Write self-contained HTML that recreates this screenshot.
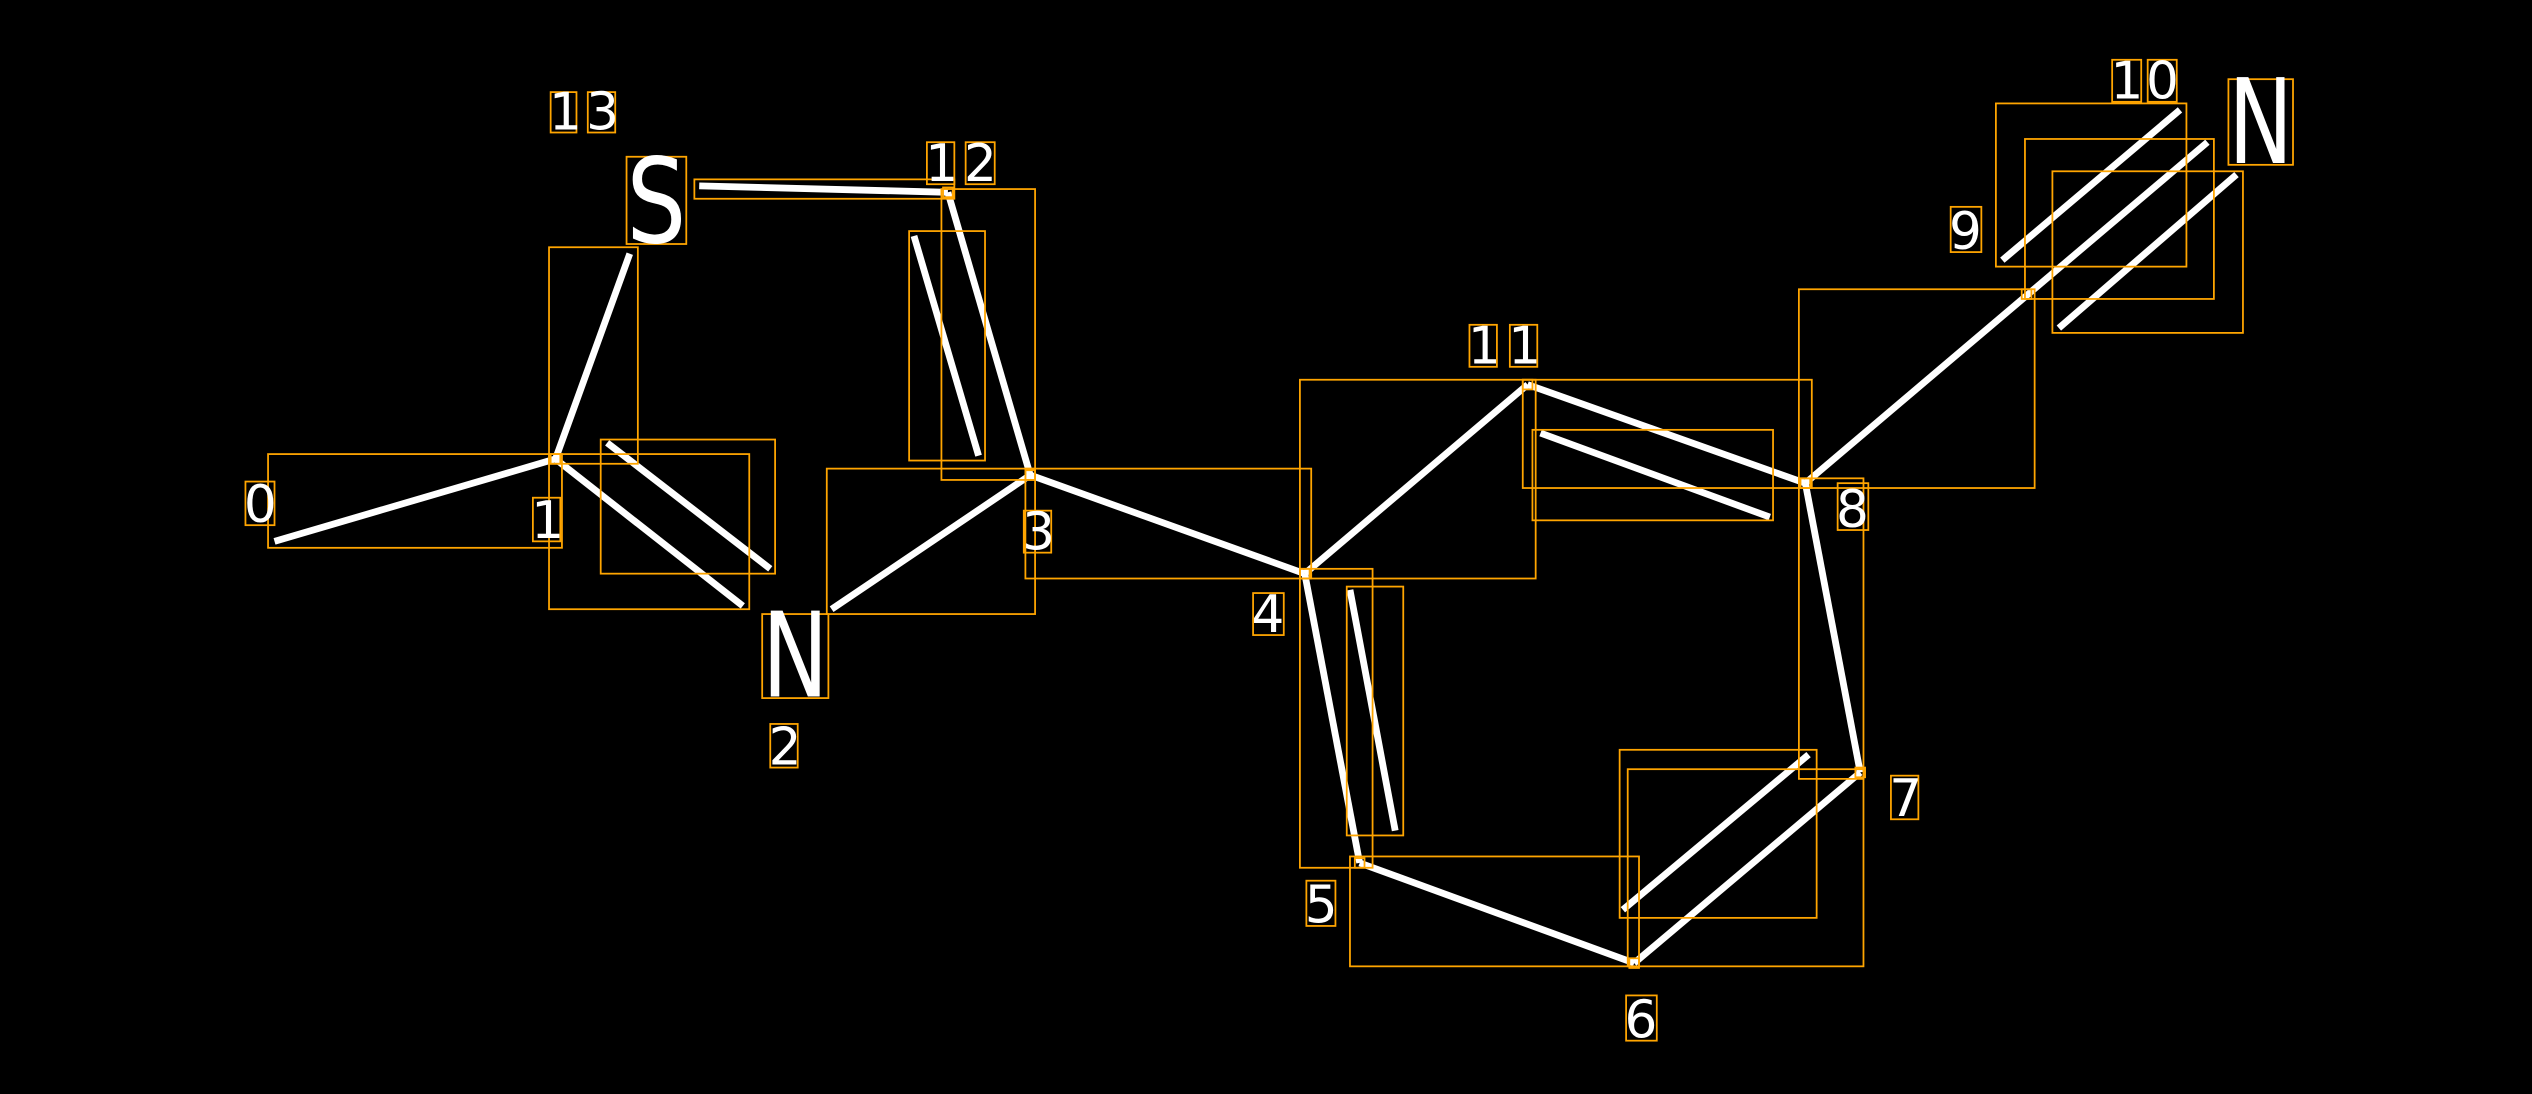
<!DOCTYPE html>
<html><head><meta charset="utf-8"><style>
html,body{margin:0;padding:0;background:#000;}
svg{display:block;}
text{font-family:"DejaVu Sans","Liberation Sans",sans-serif;fill:#fff;}
</style></head><body>
<svg width="2532" height="1094" viewBox="0 0 1568 677" preserveAspectRatio="none" xmlns="http://www.w3.org/2000/svg">
<rect width="1568" height="677" fill="#000"/>
<g stroke="#fff" stroke-width="4.2" fill="none">
<line x1="170" y1="335" x2="344" y2="284"/>
<line x1="344" y1="284" x2="390" y2="157"/>
<line x1="344" y1="284" x2="460" y2="375"/>
<line x1="376" y1="274" x2="477" y2="352"/>
<line x1="515" y1="377" x2="638" y2="294"/>
<line x1="433" y1="115" x2="587" y2="119"/>
<line x1="587" y1="119" x2="638" y2="294"/>
<line x1="566" y1="146" x2="606" y2="282"/>
<line x1="638" y1="294" x2="808" y2="355"/>
<line x1="808" y1="355" x2="946" y2="238"/>
<line x1="946" y1="238" x2="1118" y2="299"/>
<line x1="954" y1="268" x2="1096" y2="320"/>
<line x1="1118" y1="299" x2="1367" y2="88"/>
<line x1="1240" y1="161" x2="1350" y2="68"/>
<line x1="1275" y1="203" x2="1385" y2="108"/>
<line x1="1118" y1="299" x2="1152" y2="478"/>
<line x1="1152" y1="478" x2="1012" y2="596"/>
<line x1="1005" y1="563" x2="1120" y2="467"/>
<line x1="1012" y1="596" x2="842" y2="534"/>
<line x1="842" y1="534" x2="808" y2="355"/>
<line x1="836" y1="365" x2="864" y2="514"/>
</g>
<g stroke="#ffa500" stroke-width="1.1" fill="none">
<rect x="341" y="57" width="16" height="25"/>
<rect x="364" y="57" width="17" height="25"/>
<rect x="388" y="97" width="37" height="54"/>
<rect x="340" y="153" width="55" height="134"/>
<rect x="166" y="281" width="182" height="58"/>
<rect x="330" y="308" width="17" height="27"/>
<rect x="152" y="298" width="18" height="27"/>
<rect x="340" y="281" width="124" height="96"/>
<rect x="372" y="272" width="108" height="83"/>
<rect x="472" y="380" width="41" height="52"/>
<rect x="477" y="448" width="17" height="27"/>
<rect x="430" y="111" width="161" height="12"/>
<rect x="574" y="88" width="17" height="26"/>
<rect x="598" y="88" width="18" height="26"/>
<rect x="583" y="117" width="58" height="180"/>
<rect x="563" y="143" width="47" height="142"/>
<rect x="512" y="290" width="129" height="90"/>
<rect x="635" y="290" width="177" height="68"/>
<rect x="634" y="316" width="17" height="26"/>
<rect x="776" y="367" width="19" height="26"/>
<rect x="805" y="235" width="146" height="123"/>
<rect x="910" y="201" width="17" height="26"/>
<rect x="935" y="201" width="17" height="26"/>
<rect x="943" y="235" width="179" height="67"/>
<rect x="949" y="266" width="149" height="56"/>
<rect x="1138" y="299" width="19" height="29"/>
<rect x="1114" y="179" width="146" height="123"/>
<rect x="1208" y="128" width="19" height="28"/>
<rect x="1236" y="64" width="118" height="101"/>
<rect x="1254" y="86" width="117" height="99"/>
<rect x="1271" y="106" width="118" height="100"/>
<rect x="1308" y="37" width="18" height="26"/>
<rect x="1330" y="37" width="18" height="26"/>
<rect x="1380" y="49" width="40" height="53"/>
<rect x="1114" y="296" width="40" height="186"/>
<rect x="1171" y="480" width="17" height="27"/>
<rect x="805" y="352" width="45" height="185"/>
<rect x="834" y="363" width="35" height="154"/>
<rect x="809" y="545" width="18" height="28"/>
<rect x="836" y="530" width="179" height="68"/>
<rect x="1008" y="476" width="146" height="122"/>
<rect x="1003" y="464" width="122" height="104"/>
<rect x="1007" y="616" width="19" height="28"/>
<rect x="341" y="281" width="6" height="6"/>
<rect x="635" y="291" width="6" height="6"/>
<rect x="584" y="116" width="6" height="6"/>
<rect x="805" y="352" width="6" height="6"/>
<rect x="943" y="235" width="6" height="6"/>
<rect x="1115" y="296" width="6" height="6"/>
<rect x="1149" y="475" width="6" height="6"/>
<rect x="1009" y="593" width="6" height="6"/>
<rect x="839" y="531" width="6" height="6"/>
<rect x="1252" y="179" width="6" height="6"/>
</g>
<g font-size="32">
<text x="340" y="80">1</text><text x="363" y="80">3</text>
<text x="151" y="323">0</text>
<text x="329" y="333">1</text>
<text x="476" y="473">2</text>
<text x="573" y="112">1</text><text x="597" y="112">2</text>
<text x="633" y="340">3</text>
<text x="775" y="391">4</text>
<text x="909" y="225">1</text><text x="934" y="225">1</text>
<text x="1137" y="326">8</text>
<text x="1207" y="154">9</text>
<text x="1307" y="61">1</text><text x="1329" y="61">0</text>
<text x="1170" y="505">7</text>
<text x="808" y="571">5</text>
<text x="1006" y="642">6</text>
</g>
<g font-size="73">
<text x="388" y="150" textLength="37" lengthAdjust="spacingAndGlyphs">S</text>
<text x="472" y="431" textLength="41" lengthAdjust="spacingAndGlyphs">N</text>
<text x="1380" y="101" textLength="40" lengthAdjust="spacingAndGlyphs">N</text>
</g>
</svg>
</body></html>
